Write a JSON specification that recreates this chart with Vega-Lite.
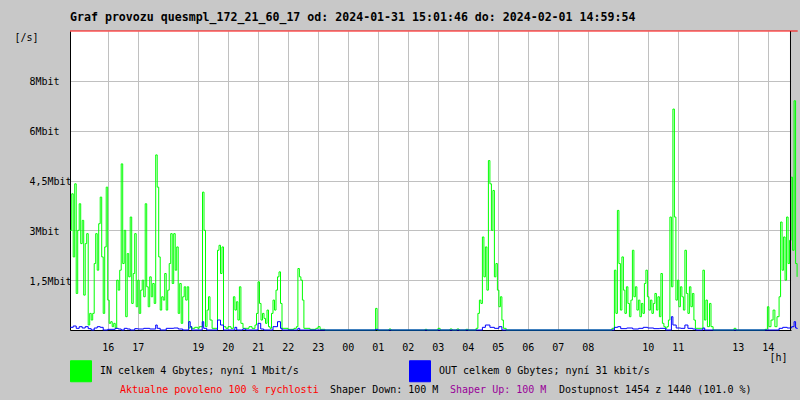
{
  "$schema": "https://vega.github.io/schema/vega-lite/v6.json",
  "autosize": {"type": "none"},
  "width": 721,
  "height": 299,
  "padding": {"left": 70, "top": 31, "right": 9, "bottom": 70},
  "background": "#c8c8c8",
  "title": {
    "text": "Graf provozu quesmpl_172_21_60_17 od: 2024-01-31 15:01:46 do: 2024-02-01 14:59:54",
    "anchor": "start",
    "frame": "group",
    "font": "DejaVu Sans Mono",
    "fontSize": 11.6,
    "fontWeight": "bold",
    "color": "black",
    "offset": 7
  },
  "config": {
    "view": {"fill": "white", "stroke": null},
    "font": "DejaVu Sans Mono",
    "axis": {
      "labelOverlap": false, "labelFlush": false, "ticks": false, "tickSize": 0,
      "grid": true, "gridColor": "#c0c0c0", "gridWidth": 1,
      "domain": true, "domainColor": "black", "domainWidth": 1,
      "labelFont": "DejaVu Sans Mono", "labelFontSize": 10, "labelColor": "black",
      "titleFont": "DejaVu Sans Mono", "titleFontSize": 10, "titleFontWeight": "normal", "titleColor": "black"
    }
  },
  "datasets": {
    "in": [
      {"h":14.75,"v":3.0},{"h":14.80,"v":4.1},{"h":14.85,"v":2.2},{"h":14.90,"v":4.4},{"h":14.95,"v":1.1},
      {"h":15.00,"v":3.0},{"h":15.05,"v":3.8},{"h":15.10,"v":2.6},{"h":15.15,"v":3.3},{"h":15.20,"v":1.05},
      {"h":15.25,"v":2.6},{"h":15.30,"v":2.9},{"h":15.35,"v":0.15},{"h":15.40,"v":0.5},{"h":15.45,"v":0.3},
      {"h":15.50,"v":0.5},{"h":15.55,"v":2.0},{"h":15.60,"v":2.9},{"h":15.65,"v":1.8},{"h":15.70,"v":3.2},
      {"h":15.75,"v":4.0},{"h":15.80,"v":2.2},{"h":15.85,"v":0.5},{"h":15.90,"v":2.5},{"h":15.95,"v":4.3},
      {"h":16.00,"v":0.9},{"h":16.05,"v":0.2},{"h":16.10,"v":0.25},{"h":16.15,"v":0.1},{"h":16.20,"v":0.2},
      {"h":16.25,"v":0.05},{"h":16.30,"v":1.5},{"h":16.35,"v":1.2},{"h":16.40,"v":1.8},{"h":16.45,"v":5.0},
      {"h":16.50,"v":2.0},{"h":16.55,"v":3.0},{"h":16.60,"v":0.4},{"h":16.65,"v":2.3},{"h":16.70,"v":1.6},
      {"h":16.75,"v":3.4},{"h":16.80,"v":0.8},{"h":16.85,"v":1.7},{"h":16.90,"v":2.9},{"h":16.95,"v":0.7},
      {"h":17.00,"v":1.5},{"h":17.05,"v":0.5},{"h":17.10,"v":1.2},{"h":17.15,"v":1.5},{"h":17.20,"v":1.0},
      {"h":17.25,"v":3.8},{"h":17.30,"v":1.3},{"h":17.35,"v":0.7},{"h":17.40,"v":1.6},{"h":17.45,"v":1.0},
      {"h":17.50,"v":1.4},{"h":17.55,"v":0.8},{"h":17.60,"v":5.27},{"h":17.65,"v":4.3},{"h":17.70,"v":2.2},
      {"h":17.75,"v":0.6},{"h":17.80,"v":1.0},{"h":17.85,"v":0.9},{"h":17.90,"v":1.7},{"h":17.95,"v":0.6},
      {"h":18.00,"v":1.2},{"h":18.05,"v":2.0},{"h":18.10,"v":2.9},{"h":18.15,"v":1.4},{"h":18.20,"v":2.9},
      {"h":18.25,"v":1.8},{"h":18.30,"v":2.5},{"h":18.35,"v":0.5},{"h":18.40,"v":1.4},{"h":18.45,"v":0.2},
      {"h":18.50,"v":1.0},{"h":18.55,"v":1.3},{"h":18.60,"v":0.9},{"h":18.65,"v":1.3},{"h":18.70,"v":0.06},
      {"h":18.75,"v":0.1},{"h":18.80,"v":0.05},{"h":18.90,"v":0.08},{"h":19.00,"v":0.05},{"h":19.05,"v":0.1},
      {"h":19.11,"v":0.1},{"h":19.16,"v":4.15},{"h":19.21,"v":3.0},{"h":19.26,"v":0.1},{"h":19.31,"v":0.6},
      {"h":19.36,"v":1.0},{"h":19.41,"v":0.3},{"h":19.48,"v":0.05},{"h":19.66,"v":2.4},{"h":19.71,"v":2.55},
      {"h":19.76,"v":1.7},{"h":19.81,"v":2.5},{"h":19.86,"v":0.1},{"h":19.94,"v":0.05},{"h":20.01,"v":0.1},
      {"h":20.11,"v":0.05},{"h":20.19,"v":1.0},{"h":20.24,"v":0.6},{"h":20.29,"v":0.85},{"h":20.34,"v":0.3},
      {"h":20.39,"v":1.3},{"h":20.44,"v":0.2},{"h":20.51,"v":0.05},{"h":20.71,"v":0.1},{"h":20.81,"v":0.05},
      {"h":20.91,"v":0.15},{"h":20.96,"v":0.5},{"h":21.01,"v":1.45},{"h":21.06,"v":0.8},{"h":21.11,"v":0.3},
      {"h":21.16,"v":0.5},{"h":21.21,"v":0.35},{"h":21.26,"v":0.2},{"h":21.31,"v":0.6},{"h":21.36,"v":0.1},
      {"h":21.41,"v":0.05},{"h":21.46,"v":0.5},{"h":21.51,"v":0.9},{"h":21.56,"v":0.6},{"h":21.61,"v":1.2},
      {"h":21.66,"v":1.6},{"h":21.71,"v":1.75},{"h":21.76,"v":0.8},{"h":21.81,"v":0.05},{"h":22.01,"v":0.02},
      {"h":22.21,"v":0.05},{"h":22.29,"v":0.1},{"h":22.34,"v":1.85},{"h":22.39,"v":1.6},{"h":22.44,"v":1.5},
      {"h":22.49,"v":0.9},{"h":22.54,"v":0.05},{"h":22.74,"v":0.02},{"h":22.94,"v":0.05},{"h":23.01,"v":0.1},
      {"h":23.08,"v":0.02},{"h":23.24,"v":0},{"h":24.88,"v":0},{"h":24.93,"v":0.65},{"h":24.98,"v":0},
      {"h":25.38,"v":0.03},{"h":25.44,"v":0},{"h":26.58,"v":0.02},{"h":26.64,"v":0},{"h":27.01,"v":0.05},
      {"h":27.08,"v":0},{"h":27.41,"v":0.03},{"h":27.48,"v":0},{"h":27.64,"v":0.03},{"h":27.71,"v":0},
      {"h":27.94,"v":0.02},{"h":28.01,"v":0},{"h":28.28,"v":0.05},{"h":28.34,"v":0.5},{"h":28.39,"v":0.9},
      {"h":28.44,"v":0.8},{"h":28.49,"v":2.8},{"h":28.54,"v":1.6},{"h":28.59,"v":2.5},{"h":28.64,"v":1.2},
      {"h":28.69,"v":5.1},{"h":28.74,"v":4.4},{"h":28.79,"v":3.0},{"h":28.84,"v":4.2},{"h":28.89,"v":1.6},
      {"h":28.94,"v":2.0},{"h":28.99,"v":1.2},{"h":29.04,"v":0.7},{"h":29.09,"v":1.0},{"h":29.14,"v":0.3},
      {"h":29.19,"v":0.05},{"h":29.28,"v":0},{"h":32.81,"v":0.05},{"h":32.89,"v":1.8},{"h":32.94,"v":0.5},
      {"h":32.99,"v":3.6},{"h":33.04,"v":2.0},{"h":33.09,"v":0.6},{"h":33.14,"v":2.2},{"h":33.19,"v":1.2},
      {"h":33.24,"v":0.5},{"h":33.29,"v":1.3},{"h":33.34,"v":0.8},{"h":33.39,"v":0.4},{"h":33.44,"v":0.9},
      {"h":33.49,"v":2.4},{"h":33.54,"v":1.0},{"h":33.59,"v":1.3},{"h":33.64,"v":0.6},{"h":33.69,"v":0.9},
      {"h":33.74,"v":0.4},{"h":33.79,"v":0.8},{"h":33.84,"v":0.5},{"h":33.89,"v":1.4},{"h":33.94,"v":1.8},
      {"h":33.99,"v":1.0},{"h":34.04,"v":0.6},{"h":34.09,"v":0.9},{"h":34.14,"v":0.5},{"h":34.19,"v":0.8},
      {"h":34.24,"v":1.1},{"h":34.29,"v":0.6},{"h":34.34,"v":1.0},{"h":34.39,"v":0.4},{"h":34.44,"v":1.7},
      {"h":34.49,"v":0.2},{"h":34.54,"v":0.1},{"h":34.59,"v":0.05},{"h":34.64,"v":0.1},{"h":34.69,"v":0.3},
      {"h":34.74,"v":3.4},{"h":34.79,"v":1.3},{"h":34.84,"v":6.65},{"h":34.89,"v":3.4},{"h":34.94,"v":0.9},
      {"h":34.99,"v":1.5},{"h":35.04,"v":0.7},{"h":35.09,"v":1.3},{"h":35.14,"v":1.0},{"h":35.19,"v":0.6},
      {"h":35.24,"v":2.4},{"h":35.29,"v":1.1},{"h":35.34,"v":0.5},{"h":35.39,"v":1.3},{"h":35.44,"v":0.7},
      {"h":35.49,"v":1.1},{"h":35.54,"v":0.3},{"h":35.59,"v":0.05},{"h":35.78,"v":0.05},{"h":35.84,"v":1.8},
      {"h":35.89,"v":0.3},{"h":35.94,"v":0.9},{"h":35.99,"v":0.1},{"h":36.06,"v":0.8},{"h":36.11,"v":0.1},
      {"h":36.18,"v":0},{"h":36.88,"v":0.05},{"h":36.94,"v":0},{"h":37.91,"v":0.02},{"h":37.99,"v":0.7},
      {"h":38.04,"v":0.1},{"h":38.11,"v":0.3},{"h":38.18,"v":0.6},{"h":38.24,"v":0.1},{"h":38.31,"v":0.4},
      {"h":38.38,"v":1.0},{"h":38.43,"v":3.25},{"h":38.48,"v":1.8},{"h":38.53,"v":2.8},{"h":38.58,"v":1.5},
      {"h":38.63,"v":3.4},{"h":38.68,"v":2.0},{"h":38.73,"v":2.7},{"h":38.78,"v":4.6},{"h":38.83,"v":2.4},
      {"h":38.88,"v":6.9},{"h":38.93,"v":2.0},{"h":38.98,"v":1.6}
    ],
    "out": [
      {"h":14.75,"v":0.08},{"h":14.85,"v":0.12},{"h":14.95,"v":0.05},{"h":15.05,"v":0.1},{"h":15.15,"v":0.06},
      {"h":15.25,"v":0.1},{"h":15.35,"v":0.04},{"h":15.45,"v":0.0},{"h":15.55,"v":0.06},{"h":15.65,"v":0.1},
      {"h":15.75,"v":0.08},{"h":15.85,"v":0.0},{"h":16.0,"v":0.02},{"h":16.25,"v":0.05},{"h":16.35,"v":0.03},
      {"h":16.45,"v":0.0},{"h":16.55,"v":0.05},{"h":16.65,"v":0.03},{"h":16.75,"v":0.0},{"h":16.9,"v":0.04},
      {"h":17.0,"v":0.03},{"h":17.2,"v":0.05},{"h":17.4,"v":0.03},{"h":17.6,"v":0.15},{"h":17.65,"v":0.05},
      {"h":17.75,"v":0.0},{"h":17.95,"v":0.05},{"h":18.2,"v":0.06},{"h":18.35,"v":0.03},{"h":18.5,"v":0.0},
      {"h":18.7,"v":0.25},{"h":18.75,"v":0.1},{"h":18.8,"v":0.0},{"h":19.15,"v":0.25},{"h":19.2,"v":0.05},
      {"h":19.3,"v":0.0},{"h":19.66,"v":0.3},{"h":19.76,"v":0.15},{"h":19.86,"v":0.0},{"h":20.24,"v":0.08},
      {"h":20.3,"v":0.0},{"h":20.5,"v":0.03},{"h":20.6,"v":0.0},{"h":21.01,"v":0.2},{"h":21.1,"v":0.03},
      {"h":21.2,"v":0.0},{"h":21.51,"v":0.1},{"h":21.66,"v":0.25},{"h":21.76,"v":0.05},{"h":21.81,"v":0.0},
      {"h":22.34,"v":0.05},{"h":22.4,"v":0.0},{"h":24.93,"v":0.02},{"h":25.0,"v":0.0},{"h":28.49,"v":0.08},
      {"h":28.59,"v":0.15},{"h":28.74,"v":0.08},{"h":28.89,"v":0.05},{"h":29.04,"v":0.1},{"h":29.14,"v":0.0},
      {"h":32.89,"v":0.08},{"h":33.0,"v":0.1},{"h":33.1,"v":0.04},{"h":33.3,"v":0.06},{"h":33.5,"v":0.03},
      {"h":33.7,"v":0.05},{"h":33.85,"v":0.08},{"h":34.0,"v":0.06},{"h":34.2,"v":0.04},{"h":34.4,"v":0.05},
      {"h":34.6,"v":0.0},{"h":34.79,"v":0.4},{"h":34.84,"v":0.15},{"h":34.95,"v":0.06},{"h":35.1,"v":0.05},
      {"h":35.24,"v":0.15},{"h":35.34,"v":0.05},{"h":35.5,"v":0.03},{"h":35.6,"v":0.0},{"h":35.84,"v":0.06},
      {"h":35.9,"v":0.0},{"h":38.38,"v":0.05},{"h":38.5,"v":0.08},{"h":38.65,"v":0.06},{"h":38.8,"v":0.1},
      {"h":38.88,"v":0.25},{"h":38.93,"v":0.06},{"h":38.98,"v":0.03}
    ],
    "notes": [
      {"label": "Aktualne povoleno 100 % rychlosti"},
      {"label": "Shaper Down: 100 M"},
      {"label": "Shaper Up: 100 M"},
      {"label": "Dostupnost 1454 z 1440 (101.0 %)"}
    ]
  },
  "layer": [
    {
      "data": {"name": "in"},
      "mark": {"type": "line", "interpolate": "step-after", "strokeWidth": 1, "clip": false},
      "encoding": {
        "x": {
          "field": "h", "type": "quantitative",
          "scale": {"domain": [14.743, 38.777], "nice": false, "zero": false},
          "axis": {
            "values": [16,17,19,20,21,22,23,24,25,26,27,28,29,30,31,32,34,35,37,38],
            "tickCount": 40,
            "labelExpr": "(datum.value % 24 < 10 ? '0' : '') + (datum.value % 24)",
            "labelPadding": 17, "labelBaseline": "middle", "labelOverlap": false,
            "title": "[h]", "titleX": 708, "titleY": 30, "titleAlign": "center", "titleBaseline": "alphabetic"
          }
        },
        "y": {
          "field": "v", "type": "quantitative",
          "scale": {"domain": [0, 9], "nice": false, "zero": true},
          "axis": {
            "values": [1.5, 3, 4.5, 6, 7.5],
            "tickCount": 10,
            "labelExpr": "datum.value == 1.5 ? '1,5Mbit' : datum.value == 4.5 ? '4,5Mbit' : datum.value == 7.5 ? '8Mbit' : datum.value + 'Mbit'",
            "labelAlign": "left", "labelPadding": 41, "labelBaseline": "middle", "labelOffset": 1, "labelOverlap": false,
            "title": "[/s]", "titleAngle": 0, "titleX": -44, "titleY": 6, "titleAlign": "center", "titleBaseline": "middle"
          }
        },
        "color": {
          "datum": "IN",
          "scale": {"domain": ["IN", "OUT"], "range": ["#00ff00", "#0000ff"]},
          "legend": {
            "orient": "none", "legendX": 0, "legendY": 329, "direction": "horizontal", "title": null,
            "symbolType": "square", "symbolSize": 441, "symbolStrokeWidth": 1,
            "labelFont": "DejaVu Sans Mono", "labelFontSize": 10, "labelColor": "black",
            "labelOffset": 8, "columnPadding": 108, "padding": 0, "labelLimit": 400,
            "labelExpr": "datum.label == 'IN' ? 'IN celkem 4 Gbytes; nyní 1 Mbit/s' : 'OUT celkem 0 Gbytes; nyní 31 kbit/s'",
            "encode": {"symbols": {"update": {"fill": {"scale": "color", "field": "value"}, "stroke": {"value": "black"}, "opacity": {"value": 1}}}}
          }
        }
      }
    },
    {
      "data": {"name": "out"},
      "mark": {"type": "line", "interpolate": "step-after", "strokeWidth": 1, "clip": false},
      "encoding": {
        "x": {
          "field": "h", "type": "quantitative",
          "axis": {
            "values": [16,17,19,20,21,22,23,24,25,26,27,28,29,30,31,32,34,35,37,38],
            "tickCount": 40,
            "labelExpr": "(datum.value % 24 < 10 ? '0' : '') + (datum.value % 24)",
            "labelPadding": 17, "labelBaseline": "middle", "labelOverlap": false,
            "title": "[h]", "titleX": 708, "titleY": 30, "titleAlign": "center", "titleBaseline": "alphabetic"
          }
        },
        "y": {
          "field": "v", "type": "quantitative",
          "axis": {
            "values": [1.5, 3, 4.5, 6, 7.5],
            "tickCount": 10,
            "labelExpr": "datum.value == 1.5 ? '1,5Mbit' : datum.value == 4.5 ? '4,5Mbit' : datum.value == 7.5 ? '8Mbit' : datum.value + 'Mbit'",
            "labelAlign": "left", "labelPadding": 41, "labelBaseline": "middle", "labelOffset": 1, "labelOverlap": false,
            "title": "[/s]", "titleAngle": 0, "titleX": -44, "titleY": 6, "titleAlign": "center", "titleBaseline": "middle"
          }
        },
        "color": {"datum": "OUT"}
      }
    },
    {
      "data": {"name": "notes"},
      "transform": [{"filter": "datum.label == 'Aktualne povoleno 100 % rychlosti'"}],
      "mark": {"type": "rule", "color": "black", "strokeWidth": 1, "clip": false},
      "encoding": {"x": {"datum": 38.76}, "y": {"datum": 0}, "y2": {"datum": 9}}
    },
    {
      "data": {"name": "notes"},
      "transform": [{"filter": "datum.label == 'Aktualne povoleno 100 % rychlosti'"}],
      "mark": {"type": "rule", "color": "#ff0000", "strokeWidth": 1, "clip": false},
      "encoding": {"x": {"datum": 14.743}, "x2": {"datum": 39.0}, "y": {"datum": 9}}
    },
    {
      "data": {"name": "notes"},
      "transform": [{"filter": "datum.label == 'Aktualne povoleno 100 % rychlosti'"}],
      "mark": {"type": "text", "color": "#ff0000", "align": "left", "baseline": "middle", "font": "DejaVu Sans Mono", "fontSize": 10, "clip": false},
      "encoding": {"text": {"field": "label"}, "x": {"datum": 16.41}, "y": {"datum": -1.8}}
    },
    {
      "data": {"name": "notes"},
      "transform": [{"filter": "datum.label == 'Shaper Down: 100 M'"}],
      "mark": {"type": "text", "color": "black", "align": "left", "baseline": "middle", "font": "DejaVu Sans Mono", "fontSize": 10, "clip": false},
      "encoding": {"text": {"field": "label"}, "x": {"datum": 23.41}, "y": {"datum": -1.8}}
    },
    {
      "data": {"name": "notes"},
      "transform": [{"filter": "datum.label == 'Shaper Up: 100 M'"}],
      "mark": {"type": "text", "color": "#990099", "align": "left", "baseline": "middle", "font": "DejaVu Sans Mono", "fontSize": 10, "clip": false},
      "encoding": {"text": {"field": "label"}, "x": {"datum": 27.41}, "y": {"datum": -1.8}}
    },
    {
      "data": {"name": "notes"},
      "transform": [{"filter": "datum.label == 'Dostupnost 1454 z 1440 (101.0 %)'"}],
      "mark": {"type": "text", "color": "black", "align": "left", "baseline": "middle", "font": "DejaVu Sans Mono", "fontSize": 10, "clip": false},
      "encoding": {"text": {"field": "label"}, "x": {"datum": 31.04}, "y": {"datum": -1.8}}
    }
  ]
}
